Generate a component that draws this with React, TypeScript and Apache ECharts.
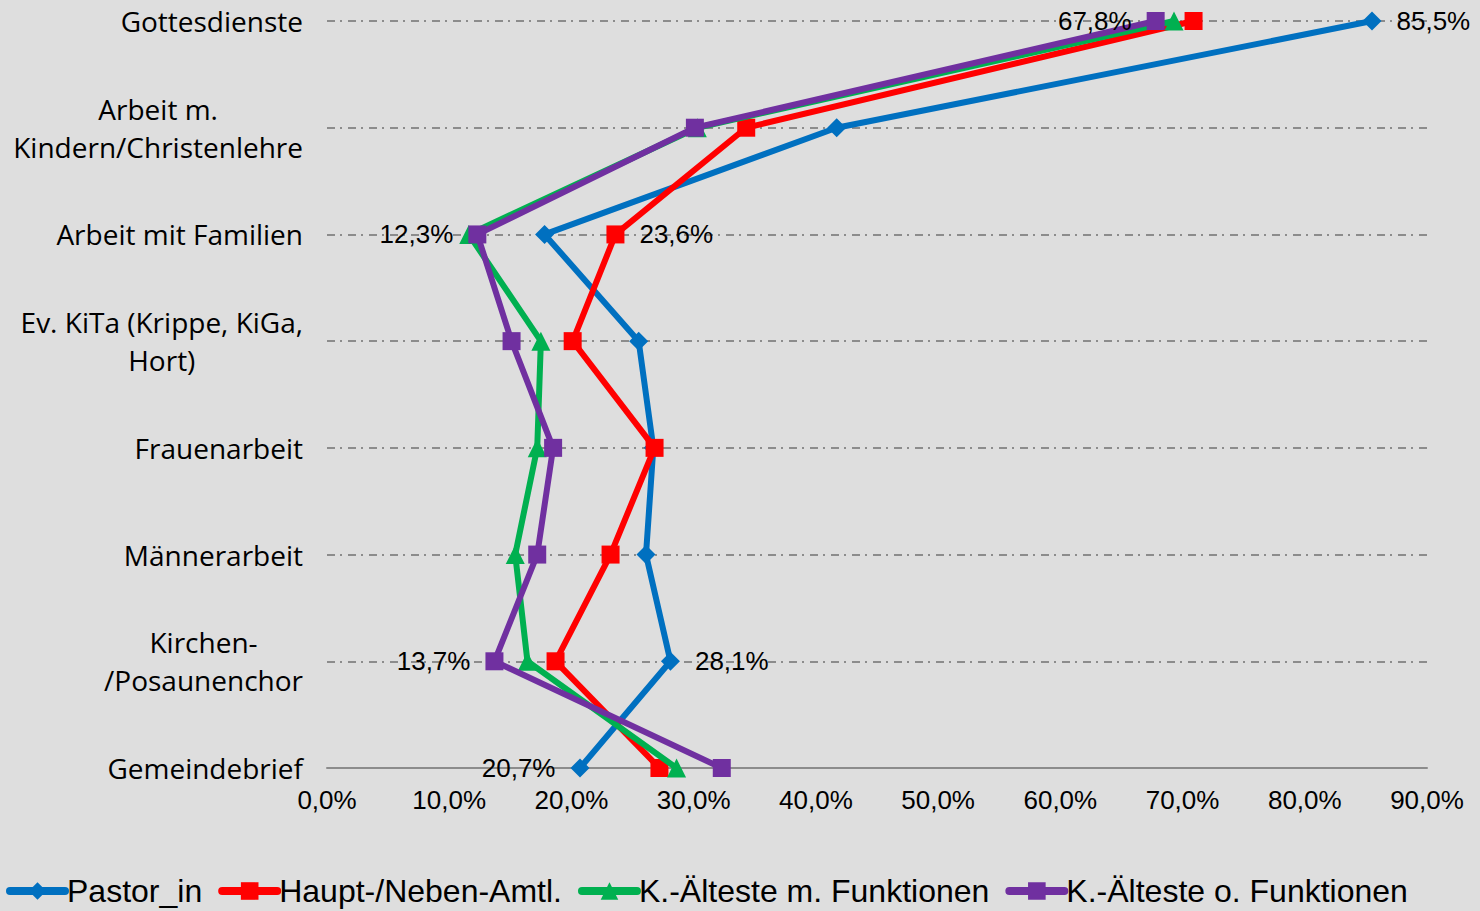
import React, { useEffect, useRef } from "react";
import * as echarts from "echarts";

const categories = [
  "Gottesdienste",
  "Arbeit m.\nKindern/Christenlehre",
  "Arbeit mit Familien",
  "Ev. KiTa (Krippe, KiGa,\nHort)",
  "Frauenarbeit",
  "Männerarbeit",
  "Kirchen-\n/Posaunenchor",
  "Gemeindebrief",
];

const seriesNames = [
  "Pastor_in",
  "Haupt-/Neben-Amtl.",
  "K.-Älteste m. Funktionen",
  "K.-Älteste o. Funktionen",
];

const pastorValues = [85.5, 41.7, 17.8, 25.5, 26.7, 26.1, 28.1, 20.7];
const hauptValues = [70.9, 34.3, 23.6, 20.1, 26.8, 23.2, 18.7, 27.2];
const aeltesteMitValues = [69.3, 30.3, 11.6, 17.5, 17.2, 15.4, 16.4, 28.6];
const aeltesteOhneValues = [67.8, 30.1, 12.3, 15.1, 18.5, 17.2, 13.7, 32.3];

const xTicks = [0, 10, 20, 30, 40, 50, 60, 70, 80, 90];

// which points carry a value label (index -> side)
const pastorLabels: Record<number, string> = { 0: "right", 6: "right", 7: "left" };
const hauptLabels: Record<number, string> = { 2: "right" };
const aeltesteMitLabels: Record<number, string> = {};
const aeltesteOhneLabels: Record<number, string> = { 0: "left", 2: "left", 6: "left" };

const colors = ["#0070c0", "#ff0000", "#00b050", "#7030a0"];
const symbols = ["diamond", "rect", "triangle", "rect"];
const symbolSizes = [19, 18, 19, 18];

const fmt = (v: number) => v.toFixed(1).replace(".", ",") + "%";

function buildSeries(
  name: string,
  values: number[],
  labels: Record<number, string>,
  idx: number
) {
  return {
    name,
    type: "line",
    symbol: symbols[idx],
    symbolSize: symbolSizes[idx],
    z: 2 + idx,
    lineStyle: { width: 6, color: colors[idx] },
    itemStyle: { color: colors[idx] },
    data: values.map((v, i) => {
      const side = labels[i];
      return {
        value: [v, categories[i]],
        label: side
          ? {
              show: true,
              position: side,
              distance: 15,
              formatter: () => fmt(v),
              fontFamily: "Liberation Sans, Arial, sans-serif",
              fontSize: 26,
              color: "#000",
            }
          : { show: false },
      };
    }),
  };
}

export default function App() {
  const ref = useRef<HTMLDivElement>(null);

  useEffect(() => {
    if (!ref.current) return;
    const chart = echarts.init(ref.current, null, { renderer: "svg" });
    const catFont = {
      fontFamily: "Open Sans, Noto Sans, sans-serif",
      fontSize: 28,
      color: "#000",
    };
    chart.setOption({
      animation: false,
      backgroundColor: "#dedede",
      color: colors,
      grid: { left: 327, right: 53, top: 21, bottom: 143, containLabel: false },
      xAxis: {
        type: "value",
        min: xTicks[0],
        max: xTicks[xTicks.length - 1],
        interval: 10,
        axisLine: { show: true, lineStyle: { color: "#8c8c8c", width: 2 } },
        axisTick: { show: false },
        splitLine: { show: false },
        axisLabel: {
          margin: 19,
          fontFamily: "Liberation Sans, Arial, sans-serif",
          fontSize: 26,
          color: "#000",
          formatter: (v: number) => fmt(v),
        },
      },
      yAxis: {
        type: "category",
        data: categories,
        inverse: true,
        boundaryGap: false,
        axisLine: { show: false },
        axisTick: { show: false },
        splitLine: {
          show: true,
          lineStyle: { color: "#8c8c8c", width: 2, type: [8, 5, 2, 6] },
        },
        axisLabel: {
          margin: 24,
          align: "right",
          ...catFont,
          lineHeight: 38,
          formatter: (v: string) =>
            v
              .split("\n")
              .map((l) => "{c|" + l + "}")
              .join("\n"),
          rich: {
            c: { align: "center", ...catFont, lineHeight: 38 },
          },
        },
      },
      legend: {
        left: 6,
        top: 875,
        padding: 0,
        itemWidth: 55,
        itemHeight: 22,
        itemGap: 16,
        lineStyle: { width: 8, cap: "round" },
        textStyle: {
          fontFamily: "Liberation Sans, Arial, sans-serif",
          fontSize: 32,
          color: "#000",
          padding: [0, 0, 0, -3],
        },
        data: seriesNames,
      },
      series: [
        buildSeries(seriesNames[0], pastorValues, pastorLabels, 0),
        buildSeries(seriesNames[1], hauptValues, hauptLabels, 1),
        buildSeries(seriesNames[2], aeltesteMitValues, aeltesteMitLabels, 2),
        buildSeries(seriesNames[3], aeltesteOhneValues, aeltesteOhneLabels, 3),
      ],
    });
    return () => chart.dispose();
  }, []);

  return (
    <div
      ref={ref}
      style={{ position: "fixed", left: 0, top: 0, width: 1480, height: 911 }}
    />
  );
}
